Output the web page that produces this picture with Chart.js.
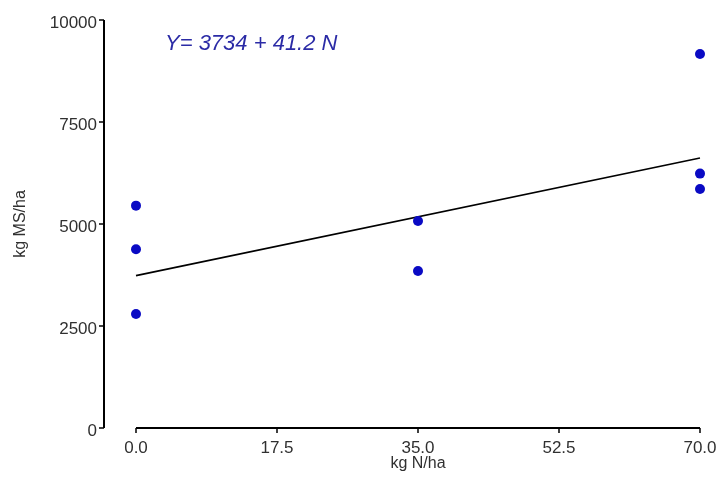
<!DOCTYPE html>
<html>
<head>
<meta charset="utf-8">
<title>kg MS/ha vs kg N/ha</title>
<script src="https://cdn.jsdelivr.net/npm/chart.js@4/dist/chart.umd.min.js"></script>
<style>
    html, body { margin: 0; padding: 0; background: #fff; }
    #wrap { width: 719px; height: 482px; }
</style>
</head>
<body>
<div id="wrap"><canvas id="chart" width="719" height="482"></canvas></div>
<script>
    'use strict';

    // Observed yields (kg MS/ha) per N dose (kg N/ha)
    const doseN = [0, 0, 0, 35, 35, 70, 70, 70];
    const yieldMS = [5450, 4380, 2795, 5075, 3850, 9165, 6235, 5860];

    // Fitted line Y = 3734 + 41.2 N, at both ends of the dose range
    const fitN = [0, 70];
    const fitY = [3734, 6618];
    const equationText = 'Y= 3734 + 41.2 N';

    const xTicks = [0, 17.5, 35, 52.5, 70];
    const yTicks = [0, 2500, 5000, 7500, 10000];

    const textColor = '#303030';
    const fontFamily = '"Liberation Sans", Arial, sans-serif';

    // Axes are drawn offset from the plot (y axis pulled left of the data)
    const offsetAxes = {
        id: 'offsetAxes',
        beforeDatasetsDraw: function(chart) {
            const ctx = chart.ctx;
            const xs = chart.scales.x;
            const ys = chart.scales.y;
            const yAxisX = chart.chartArea.left - 32;
            const y0 = ys.getPixelForValue(0);

            ctx.save();
            ctx.strokeStyle = '#000';
            ctx.lineWidth = 2;

            // y axis
            ctx.beginPath();
            ctx.moveTo(yAxisX, ys.getPixelForValue(10000));
            ctx.lineTo(yAxisX, y0);
            ctx.stroke();

            // x axis
            ctx.beginPath();
            ctx.moveTo(xs.getPixelForValue(0), y0);
            ctx.lineTo(xs.getPixelForValue(70), y0);
            ctx.stroke();

            ctx.lineWidth = 1.5;
            yTicks.forEach(v => {
                const py = Math.round(ys.getPixelForValue(v));
                ctx.beginPath();
                ctx.moveTo(yAxisX, py);
                ctx.lineTo(yAxisX - 5, py);
                ctx.stroke();
            });
            xTicks.forEach(v => {
                const px = Math.round(xs.getPixelForValue(v));
                ctx.beginPath();
                ctx.moveTo(px, y0);
                ctx.lineTo(px, y0 + 5);
                ctx.stroke();
            });

            // regression equation
            ctx.fillStyle = '#2b2ba6';
            ctx.font = 'italic 22px ' + fontFamily;
            ctx.textAlign = 'left';
            ctx.textBaseline = 'middle';
            ctx.fillText(equationText, chart.chartArea.left + 29, chart.chartArea.top + 24);
            ctx.restore();
        }
    };

    const ctx = document.getElementById('chart').getContext('2d');
    new Chart(ctx, {
        type: 'scatter',
        data: {
            datasets: [{
                type: 'scatter',
                data: doseN.map((n, i) => ({ x: n, y: yieldMS[i] })),
                backgroundColor: '#0a0ac4',
                borderColor: '#0a0ac4',
                pointRadius: 5,
                borderWidth: 0,
                clip: false,
                order: 0
            }, {
                type: 'line',
                data: fitN.map((n, i) => ({ x: n, y: fitY[i] })),
                borderColor: '#000',
                borderWidth: 1.6,
                pointRadius: 0,
                fill: false,
                clip: false,
                order: 1
            }]
        },
        options: {
            responsive: false,
            animation: false,
            layout: {
                padding: { left: 5, right: 19, top: 20, bottom: 5 }
            },
            plugins: {
                legend: { display: false },
                tooltip: { enabled: false }
            },
            scales: {
                x: {
                    type: 'linear',
                    min: 0,
                    max: 70,
                    afterBuildTicks: (scale) => {
                        scale.ticks = xTicks.map(v => ({ value: v }));
                    },
                    afterFit: (scale) => {
                        scale.height = 49;
                        scale.paddingLeft = 0;
                        scale.paddingRight = 0;
                    },
                    grid: { display: false, drawTicks: false },
                    border: { display: false },
                    ticks: {
                        color: textColor,
                        padding: 10,
                        maxRotation: 0,
                        font: { family: fontFamily, size: 17 },
                        callback: (v) => Number(v).toFixed(1)
                    },
                    title: {
                        display: true,
                        text: 'kg N/ha',
                        color: textColor,
                        padding: 4,
                        font: { family: fontFamily, size: 16 }
                    }
                },
                y: {
                    type: 'linear',
                    min: 0,
                    max: 10000,
                    afterBuildTicks: (scale) => {
                        scale.ticks = yTicks.map(v => ({ value: v }));
                    },
                    afterFit: (scale) => {
                        scale.width = 131;
                        scale.paddingTop = 0;
                        scale.paddingBottom = 0;
                    },
                    grid: { display: false, drawTicks: false },
                    border: { display: false },
                    ticks: {
                        color: textColor,
                        padding: 39,
                        labelOffset: 3,
                        font: { family: fontFamily, size: 17 },
                        callback: (v) => String(v)
                    },
                    title: {
                        display: true,
                        text: 'kg MS/ha',
                        color: textColor,
                        padding: 6,
                        font: { family: fontFamily, size: 16 }
                    }
                }
            }
        },
        plugins: [offsetAxes]
    });
</script>
</body>
</html>
